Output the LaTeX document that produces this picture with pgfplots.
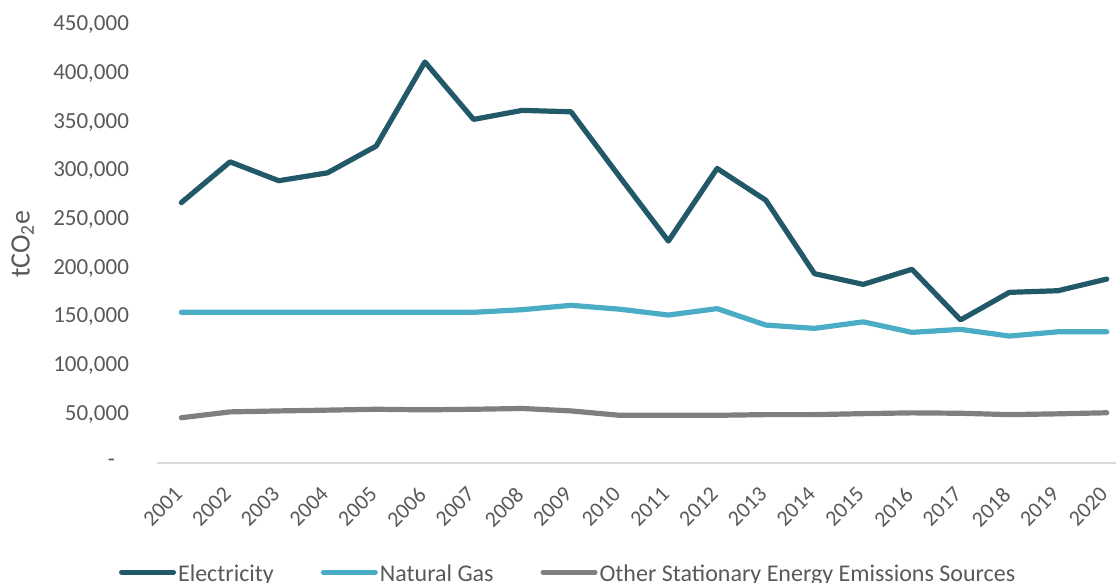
\documentclass[border=0pt]{standalone}
\usepackage{pgfplots}
\pgfplotsset{compat=1.18}
\usepackage{fontspec}
\setmainfont{Carlito}
\definecolor{elec}{RGB}{34,89,104}
\definecolor{gas}{RGB}{75,172,198}
\definecolor{oth}{RGB}{127,127,127}
\definecolor{txt}{RGB}{89,89,89}
\definecolor{axl}{RGB}{217,217,217}

\pgfplotstableread{
x elec gas oth
1  267500 154800 46500
2  309400 154800 52500
3  290000 154800 53500
4  298100 154800 54300
5  325600 154800 55200
6  412000 154800 54600
7  353000 154800 55200
8  362300 157500 56000
9  360800 162000 53500
10 294000 158000 49000
11 228000 152000 49000
12 302600 158600 49000
13 270000 141700 49700
14 194500 138300 49700
15 183500 145000 50700
16 199000 134200 51500
17 147000 137300 51100
18 175300 130400 49700
19 177000 134800 50500
20 189000 134800 51600
}\datatable

\begin{document}
\begin{tikzpicture}
\useasboundingbox (0,0) rectangle (558pt,291.5pt);
\begin{axis}[
  at={(78.5pt,60pt)}, anchor=south west,
  scale only axis, width=479.5pt, height=219pt,
  xmin=0.5, xmax=20.19, ymin=0, ymax=450000,
  clip=false,
  scaled y ticks=false,
  axis x line*=bottom, axis y line*=left,
  y axis line style={draw=none},
  x axis line style={draw=axl, line width=1pt, -},
  major tick length=0pt,
  xtick={1,...,20},
  xticklabels={2001,2002,2003,2004,2005,2006,2007,2008,2009,2010,2011,2012,2013,2014,2015,2016,2017,2018,2019,2020},
  ytick={0,50000,100000,150000,200000,250000,300000,350000,400000,450000},
  yticklabels={{-\hspace*{7pt}},{50,000},{100,000},{150,000},{200,000},{250,000},{300,000},{350,000},{400,000},{450,000}},
  every tick label/.append style={font=\fontsize{11.5}{13}\selectfont, text=txt},
  y tick label style={xshift=-10.5pt},
  x tick label style={font=\fontsize{11}{13}\selectfont, xshift=-4pt, yshift=-6.5pt, rotate=45, anchor=north east},
  ylabel={tCO\textsubscript{2}e},
  ylabel style={at={(axis description cs:-0.140,0.5)}, anchor=center, font=\fontsize{14}{16}\selectfont, text=txt},
  legend columns=3,
  legend style={draw=none, fill=none, at={(-0.040,-0.254)}, anchor=west, inner sep=0pt,
    font=\fontsize{12}{14}\selectfont, text=txt,
    /tikz/every even column/.append style={column sep=22.5pt},
    nodes={inner sep=1pt}},
  legend image code/.code={\draw[#1, line width=2.5pt, line cap=round] (0pt,1pt) -- (26pt,1pt);},
  every axis plot/.append style={line width=2.6pt, line cap=round, line join=round, mark=none},
]
\addplot[elec] table[x=x,y=elec]{\datatable};
\addlegendentry{Electricity}
\addplot[gas] table[x=x,y=gas]{\datatable};
\addlegendentry{Natural Gas}
\addplot[oth] table[x=x,y=oth]{\datatable};
\addlegendentry{Other Stationary Energy Emissions Sources}
\end{axis}
\end{tikzpicture}
\end{document}
